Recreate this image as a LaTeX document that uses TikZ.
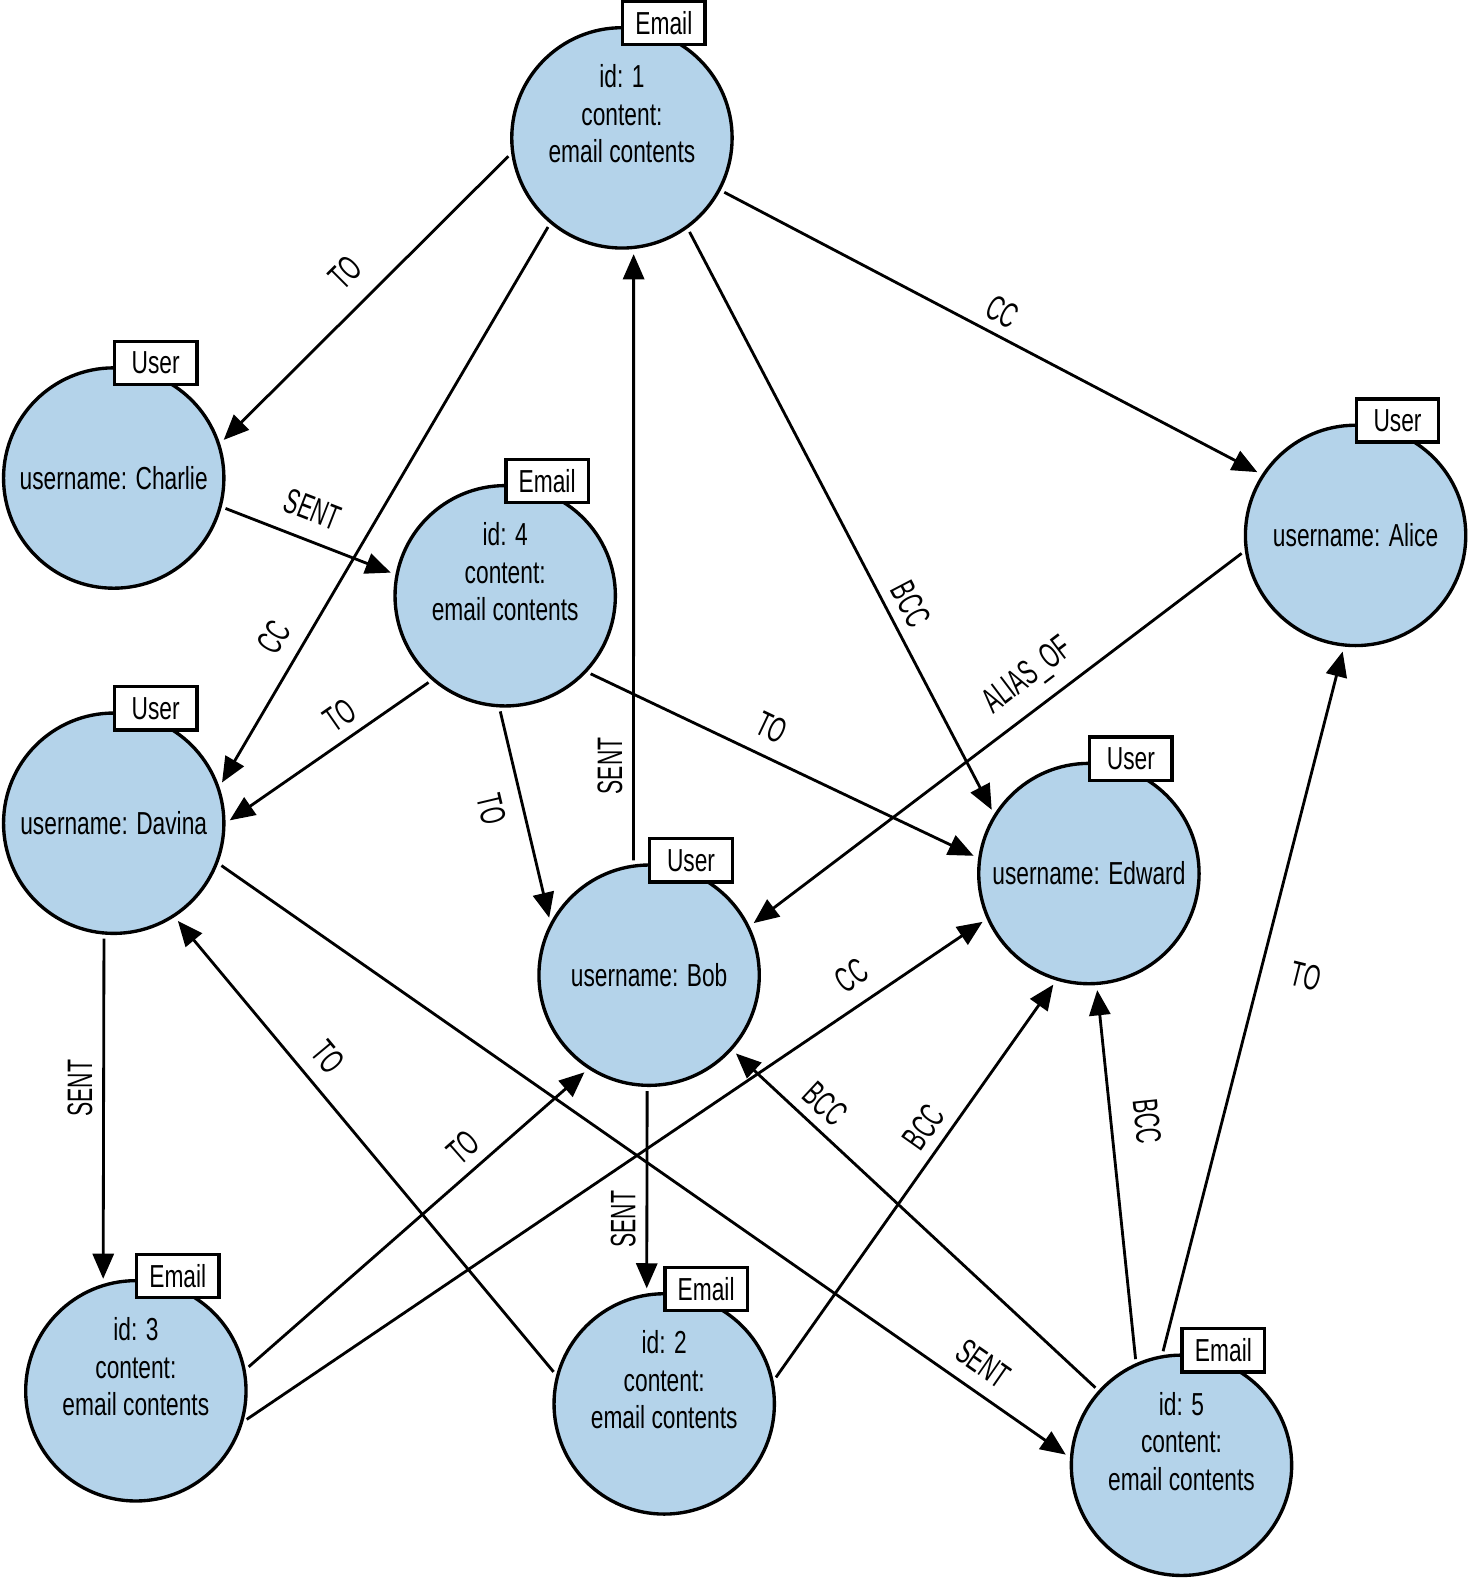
\documentclass[tikz,border=0pt]{standalone}
\usepackage{fontspec}
\setmainfont[FakeStretch=0.715]{Liberation Sans}
\newfontfamily\edgefamily[FakeStretch=0.6]{Liberation Sans}
\usetikzlibrary{arrows.meta}
\definecolor{entblue}{RGB}{180,211,234}
\tikzset{
  ent/.style={circle, draw, line width=1.9pt, fill=entblue, minimum size=4.38cm, inner sep=0pt, align=center, font=\fontsize{18pt}{21.3pt}\selectfont},
  tag/.style={draw, line width=1.9pt, fill=white, minimum width=1.64cm, minimum height=0.86cm, inner sep=0pt, anchor=west, font=\fontsize{18pt}{21.3pt}\selectfont},
  rel/.style={line width=1.6pt, -{Triangle[length=0.5cm,width=0.42cm]}, shorten >=0.1cm, shorten <=0.08cm},
  lbl/.style={font=\edgefamily\fontsize{20pt}{24pt}\selectfont, inner sep=5.5pt},
  slbl/.style={lbl, sloped, above}
}
\begin{document}
\begin{tikzpicture}[x=0.02cm, y=-0.02cm]
\useasboundingbox (0,0) rectangle (1461,1568);
% emails
\node[ent] (e1) at (618,137) {id: 1\\content:\\email contents\\[6pt]\mbox{}};
\node[ent] (e4) at (502,592) {id: 4\\content:\\email contents\\[6pt]\mbox{}};
\node[ent] (e3) at (135,1382) {id: 3\\content:\\email contents\\[6pt]\mbox{}};
\node[ent] (e2) at (660,1395) {id: 2\\content:\\email contents\\[6pt]\mbox{}};
\node[ent] (e5) at (1174,1456) {id: 5\\content:\\email contents\\[6pt]\mbox{}};
% users
\node[ent] (ch) at (113,475) {username: Charlie};
\node[ent] (al) at (1347,532) {username: Alice};
\node[ent] (da) at (113,818) {username: Davina};
\node[ent] (bo) at (645,969) {username: Bob};
\node[ent] (ed) at (1082,868) {username: Edward};
% type tags
\foreach \n/\t in {e1/Email,e4/Email,e3/Email,e2/Email,e5/Email,ch/User,al/User,da/User,bo/User,ed/User}
  \node[tag] (\n-tag) at ([shift={(-1,-3)}]\n.north) {\t};
% relations
\draw[rel] (e1.188) -- node[slbl, above=5pt, pos=0.49] {TO} (ch.18);
\draw[rel] (e1.230) -- node[slbl, above=3pt, pos=0.76] {CC} (da.19);
\draw[rel] (bo.98) -- node[slbl, pos=0.16] {SENT} (e1.276);
\draw[rel] (e1.-54) -- node[slbl, pos=0.66] {BCC} (ed.148);
\draw[rel] (e1.-28) -- node[slbl, pos=0.5] {CC} (al.147);
\draw[rel] (ch.-15) -- node[slbl, above=4pt, pos=0.46] {SENT} (e4.169);
\draw[rel] (e4.229) -- node[slbl, pos=0.38] {TO} (da.0);
\draw[rel] (e4.267) -- node[lbl, sloped, below=4pt, pos=0.44] {TO} (bo.152);
\draw[rel] (e4.-43) -- node[slbl, above=3pt, pos=0.44] {TO} (ed.172);
\draw[rel] (al.188) -- node[slbl, above=2pt, pos=0.4] {ALIAS\_OF} (bo.26);
\draw[rel] (da.265) -- node[slbl, pos=0.44] {SENT} (e3.107);
\draw[rel] (da.-21) -- node[slbl, above=2pt, pos=0.88] {SENT} (e5.176);
\draw[rel] (e2.165) -- node[slbl, above=2.5pt, pos=0.655] {TO} (da.-57);
\draw[rel] (e3.11) -- node[slbl, pos=0.68] {TO} (bo.237);
\draw[rel] (e3.-16) -- node[slbl, above=3pt, pos=0.84] {CC} (ed.204);
\draw[rel] (bo.269) -- node[slbl, pos=0.64] {SENT} (e2.99);
\draw[rel] (e2.12) -- node[slbl, pos=0.6] {BCC} (ed.253);
\draw[rel] (e5.138) -- node[slbl, pos=0.79] {BCC} (bo.-42);
\draw[rel] (e5.114) -- node[slbl, above=7pt, pos=0.63] {BCC} (ed.-86);
\draw[rel] (e5.100) -- node[lbl, pos=0.55, rotate=-14, xshift=0.9cm] {TO} (al.264);
\end{tikzpicture}
\end{document}
